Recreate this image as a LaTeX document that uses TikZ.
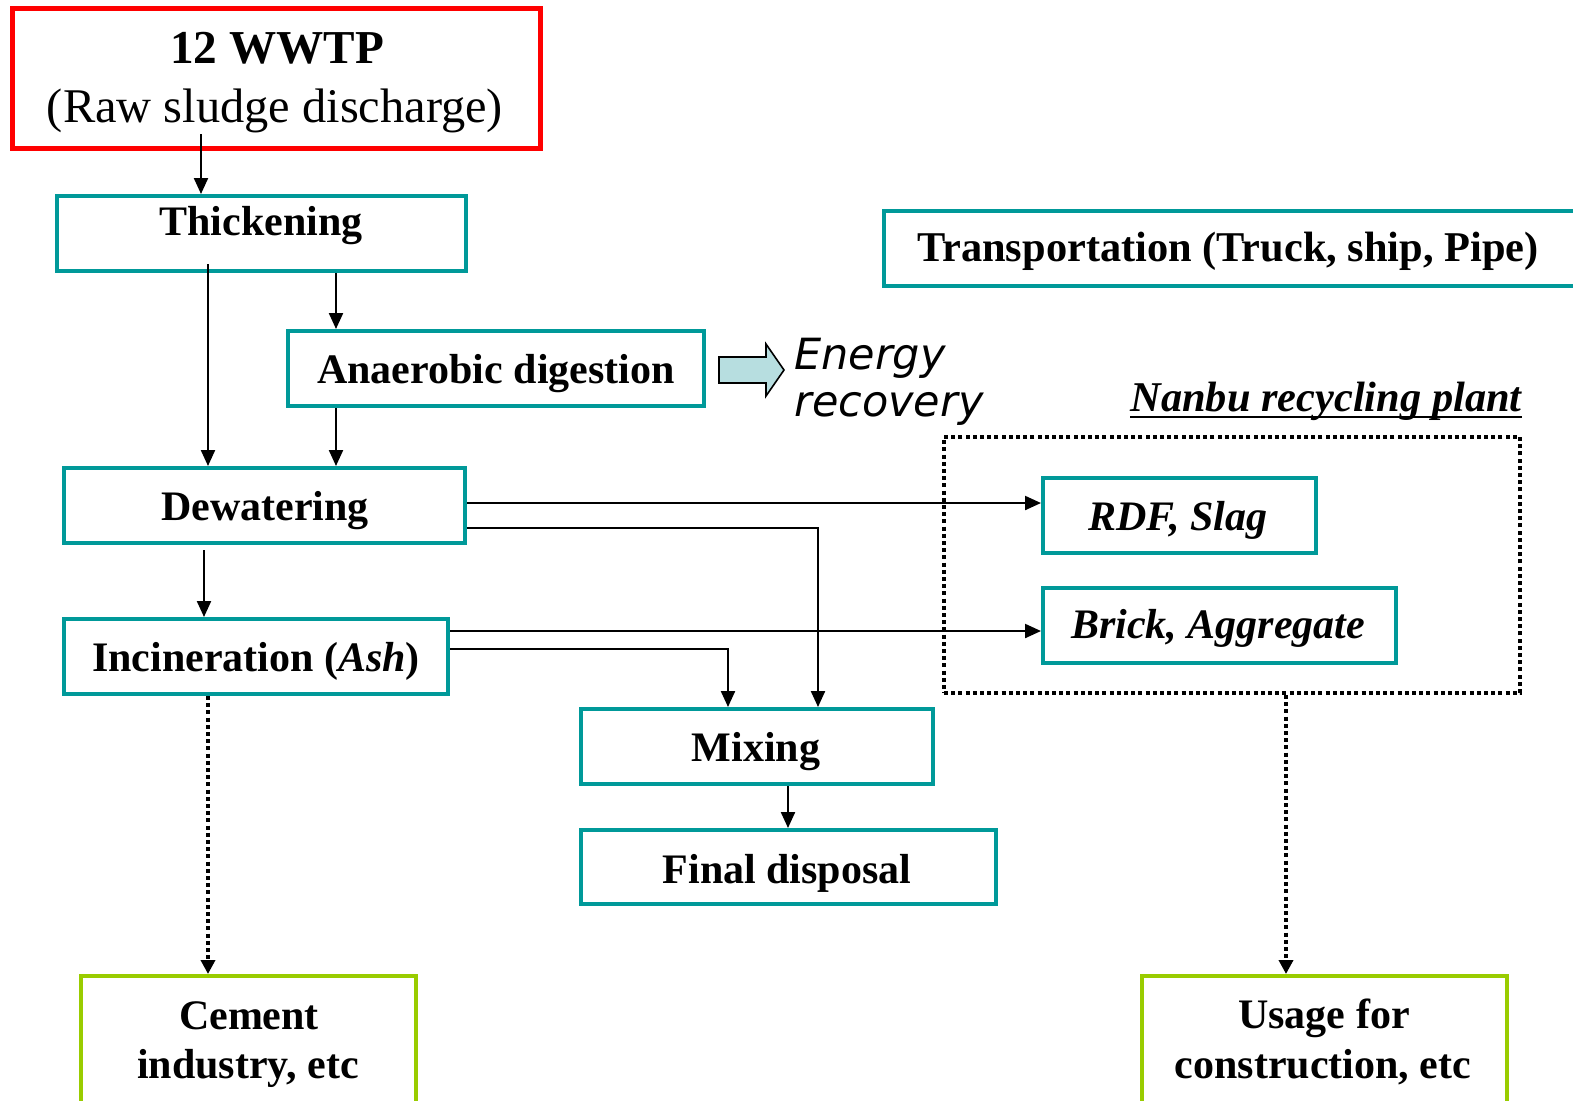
\documentclass[tikz,border=0pt]{standalone}
\usepackage{fontspec}
\setmainfont{Liberation Serif}
\newfontfamily\dvsans{DejaVu Sans}
\usetikzlibrary{arrows.meta,fit,calc}
\definecolor{tealc}{RGB}{0,153,153}
\definecolor{redc}{RGB}{255,0,0}
\definecolor{greenc}{RGB}{153,204,0}
\definecolor{arrowfill}{RGB}{183,222,224}
\begin{document}
\begin{tikzpicture}[x=0.5pt,y=-0.5pt,
 box/.style={draw=tealc,line width=2pt,inner sep=0pt},
 redbox/.style={draw=redc,line width=2.5pt,inner sep=0pt},
 greenbox/.style={draw=greenc,line width=2pt,inner sep=0pt},
 txt/.style={inner sep=0pt,anchor=base,font=\fontsize{21}{25}\selectfont\bfseries},
 arr/.style={line width=1.1pt,-{Triangle[length=8pt,width=7pt]}},
 dotline/.style={line width=2pt,dash pattern=on 2pt off 1.6pt},
 dotarr/.style={dotline,-{Triangle[length=7pt,width=7pt]}},
]
\useasboundingbox (0,0) rectangle (1573,1100);
\clip (0,0) rectangle (1573,1100);

% boxes
\node[redbox,fit={(12,8) (540,148)}] (wwtp) {};
\node[box,fit={(57,196) (466,271)}] (thick) {};
\node[box,fit={(288,331) (704,406)}] (anaer) {};
\node[box,fit={(64,468) (465,543)}] (dewat) {};
\node[box,fit={(64,619) (448,694)}] (incin) {};
\node[box,fit={(581,709) (933,784)}] (mix) {};
\node[box,fit={(581,830) (996,904)}] (final) {};
\node[box,fit={(884,211) (1585,286)}] (transp) {};
\node[box,fit={(1043,478) (1316,553)}] (rdf) {};
\node[box,fit={(1043,588) (1396,663)}] (brick) {};
\node[dotline,draw,inner sep=0pt,fit={(944,437) (1520,693)}] (plant) {};
\node[greenbox,fit={(81,976) (416,1115)}] (cement) {};
\node[greenbox,fit={(1142,976) (1507,1115)}] (usage) {};

% texts
\node[txt,font=\fontsize{23.6}{28}\selectfont\bfseries] (wwtpA) at (277,63) {12 WWTP};
\node[txt,font=\fontsize{24.2}{28}\selectfont] (wwtpB) at (275,122) {(Raw sludge discharge)};
\node[txt] (thickT) at (261,235) {Thickening};
\node[txt] (anaerT) at (496,383) {Anaerobic digestion};
\node[txt] (dewatT) at (265,520) {Dewatering};
\node[txt] (incinT) at (256,671) {Incineration (\textit{Ash})};
\node[txt] (mixT) at (756,761) {Mixing};
\node[txt] (finalT) at (787,883) {Final disposal};
\node[txt,font=\fontsize{21.2}{25}\selectfont\bfseries] (transpT) at (1228,261) {Transportation (Truck, ship, Pipe)};
\node[txt,font=\fontsize{21}{25}\selectfont\bfseries\itshape] (rdfT) at (1178,530) {RDF, Slag};
\node[txt,font=\fontsize{21}{25}\selectfont\bfseries\itshape] (brickT) at (1218,638) {Brick, Aggregate};
\node[txt] (cementA) at (249,1029) {Cement};
\node[txt] (cementB) at (248,1078) {industry, etc};
\node[txt] (usageA) at (1324,1028) {Usage for};
\node[txt] (usageB) at (1323,1078) {construction, etc};
\node[inner sep=0pt,anchor=base west,font=\dvsans\itshape\fontsize{21.5}{25}\selectfont] (energyA) at (794,369) {Energy};
\node[inner sep=0pt,anchor=base west,font=\dvsans\itshape\fontsize{21.5}{25}\selectfont] (energyB) at (794,416) {recovery};
\node[inner sep=0pt,anchor=base east,font=\fontsize{21.2}{25}\selectfont\bfseries\itshape] (nanbu) at (1522,411) {Nanbu recycling plant};
\draw[line width=1.1pt] ($(nanbu.base west)+(0,6)$) -- ($(nanbu.base east)+(0,6)$);

% energy block arrow
\draw[fill=arrowfill,line width=0.8pt] (719,357) -- (766,357) -- (766,344) -- (784,370) -- (766,396) -- (766,383) -- (719,383) -- cycle;

% connectors
\coordinate (wwtpOut) at (201,134);
\coordinate (thickOut) at (208,264);
\coordinate (dewatOut) at (204,550);
\draw[arr] (wwtpOut) -- (thick.north -| wwtpOut);
\draw[arr] (thickOut) -- (dewat.north -| thickOut);
\draw[arr] (thick.south -| 336,0) -- (anaer.north -| 336,0);
\draw[arr] (anaer.south -| 336,0) -- (dewat.north -| 336,0);
\draw[arr] (dewatOut) -- (incin.north -| dewatOut);
\draw[arr] (dewat.east |- 0,503) -- (rdf.west |- 0,503);
\draw[arr] (dewat.east |- 0,528) -| (mix.north -| 818,0);
\draw[arr] (incin.east |- 0,631) -- (brick.west |- 0,631);
\draw[arr] (incin.east |- 0,649) -| (mix.north -| 728,0);
\draw[arr] (mix.south -| 788,0) -- (final.north -| 788,0);
\draw[dotarr] (incin.south -| 208,0) -- (cement.north -| 208,0);
\draw[dotarr] (plant.south -| 1286,0) -- (usage.north -| 1286,0);
\end{tikzpicture}
\end{document}
